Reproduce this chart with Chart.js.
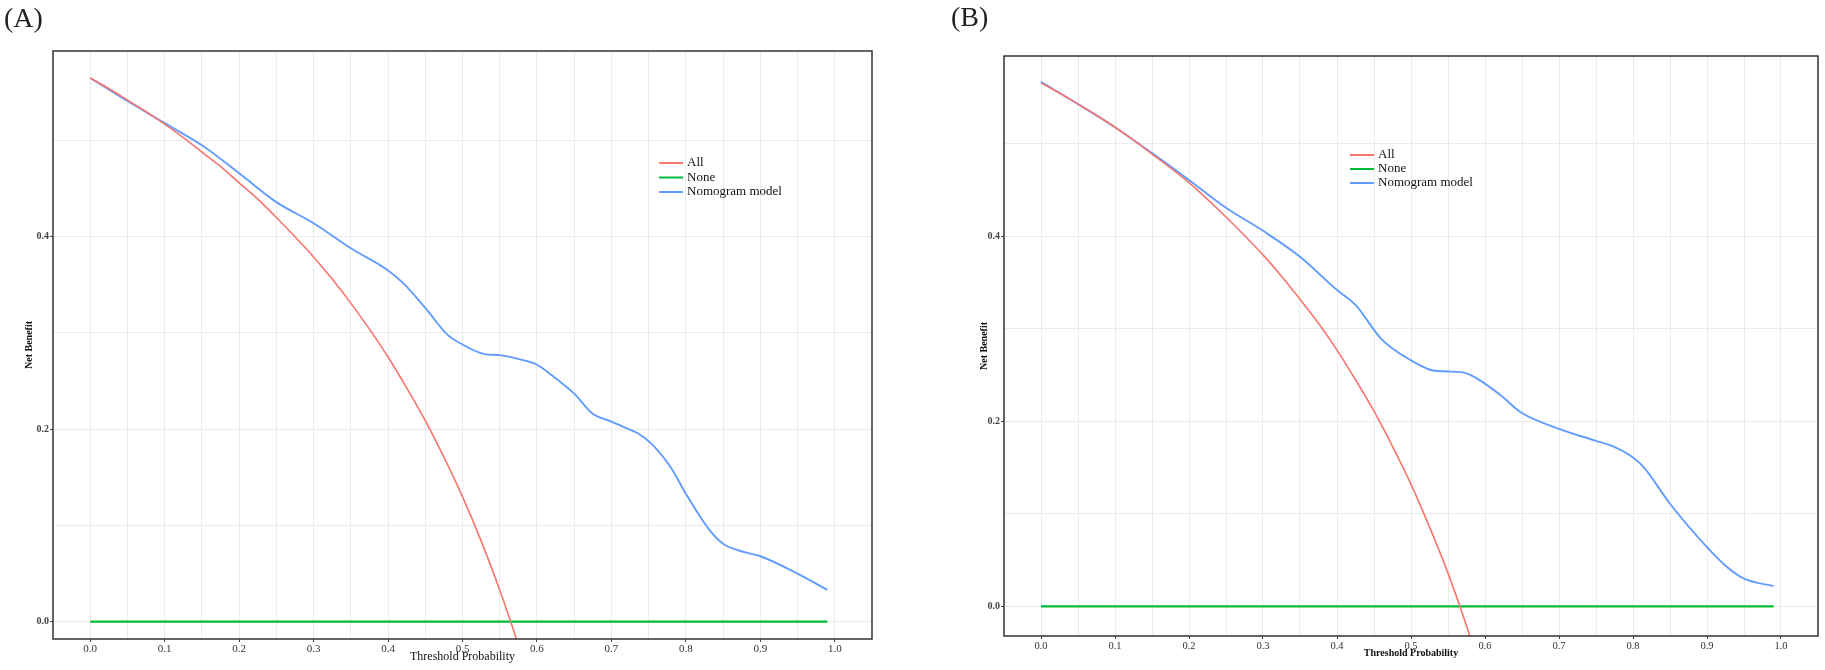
<!DOCTYPE html>
<html>
<head>
<meta charset="utf-8">
<title>Decision curves</title>
<script src="https://cdn.jsdelivr.net/npm/chart.js@4.4.1/dist/chart.umd.min.js"></script>
<style>
  body { margin: 0; background: #fff; width: 1825px; height: 670px; overflow: hidden; position: relative; font-family: "Liberation Serif", serif; }
  canvas { position: absolute; top: 0; }
  .tag { position: absolute; font-size: 28px; line-height: 28px; color: #222; }
</style>
</head>
<body>
<canvas id="chartA" width="912" height="670" style="left:0"></canvas>
<canvas id="chartB" width="913" height="670" style="left:912px"></canvas>
<div class="tag" style="left:4px;top:4px">(A)</div>
<div class="tag" style="left:951px;top:3px">(B)</div>
<script>
// axis breaks
const xMajor = [0, 0.1, 0.2, 0.3, 0.4, 0.5, 0.6, 0.7, 0.8, 0.9, 1.0];
const xMajorLabels = ['0.0', '0.1', '0.2', '0.3', '0.4', '0.5', '0.6', '0.7', '0.8', '0.9', '1.0'];
const xMinor = [0.05, 0.15, 0.25, 0.35, 0.45, 0.55, 0.65, 0.75, 0.85, 0.95];
const yMajor = [0, 0.2, 0.4];
const yMajorLabels = ['0.0', '0.2', '0.4'];
const yMinor = [0.1, 0.3, 0.5];

const seriesNames = ['All', 'None', 'Nomogram model'];

// "treat all" curves
const allThreshold = [0, 0.025, 0.05, 0.075, 0.1, 0.125, 0.15, 0.175, 0.2, 0.225, 0.25, 0.275, 0.3,
  0.325, 0.35, 0.375, 0.4, 0.425, 0.45, 0.475, 0.5, 0.525, 0.55, 0.575, 0.6];
const allA = [0.565, 0.554, 0.542, 0.530, 0.517, 0.503, 0.488, 0.473, 0.456, 0.439, 0.420, 0.400, 0.379,
  0.356, 0.331, 0.304, 0.275, 0.243, 0.209, 0.171, 0.130, 0.084, 0.033, -0.024, -0.088];
const allB = [0.566, 0.555, 0.543, 0.531, 0.518, 0.504, 0.489, 0.474, 0.458, 0.440, 0.421, 0.401, 0.380,
  0.357, 0.332, 0.306, 0.277, 0.245, 0.211, 0.173, 0.132, 0.086, 0.036, -0.021, -0.085];

// "treat none"
const noneThreshold = [0, 0.99];
const noneValues = [0, 0];

// nomogram, panel A
const nomoThresholdA = [0, 0.05, 0.1, 0.15, 0.2, 0.25, 0.3, 0.35, 0.4, 0.42, 0.45, 0.48, 0.5, 0.53, 0.55,
  0.58, 0.6, 0.62, 0.65, 0.675, 0.7, 0.72, 0.735, 0.755, 0.78, 0.8, 0.83, 0.85, 0.88, 0.9, 0.95, 0.99];
const nomoA = [0.565, 0.541, 0.518, 0.495, 0.466, 0.436, 0.414, 0.388, 0.365, 0.352, 0.326, 0.298, 0.288, 0.278, 0.277,
  0.272, 0.267, 0.256, 0.237, 0.216, 0.208, 0.201, 0.196, 0.184, 0.160, 0.133, 0.097, 0.081, 0.072, 0.068, 0.050, 0.033];

// nomogram, panel B
const nomoThresholdB = [0, 0.05, 0.1, 0.15, 0.2, 0.25, 0.3, 0.35, 0.4, 0.425, 0.46, 0.5, 0.53, 0.55, 0.575,
  0.59, 0.62, 0.65, 0.7, 0.75, 0.77, 0.8, 0.815, 0.85, 0.9, 0.925, 0.95, 0.99];
const nomoB = [0.567, 0.543, 0.518, 0.490, 0.461, 0.431, 0.406, 0.378, 0.342, 0.326, 0.289, 0.266, 0.255, 0.254, 0.252,
  0.246, 0.229, 0.209, 0.192, 0.179, 0.174, 0.161, 0.150, 0.111, 0.064, 0.044, 0.030, 0.022];

const colors = ['#F8766D', '#00BA38', '#619CFF'];

const toPoints = (xs, ys) => xs.map((x, i) => ({ x: x, y: ys[i] }));
const findIdx = (list, v) => list.findIndex(m => Math.abs(m - v) < 1e-9);

// full frame round the plot
const panelBox = {
  id: 'panelBox',
  afterDraw(chart) {
    const { ctx, chartArea: a } = chart;
    ctx.save();
    ctx.strokeStyle = '#333';
    ctx.lineWidth = 1.5;
    ctx.strokeRect(a.left, a.top, a.right - a.left, a.bottom - a.top);
    ctx.restore();
  }
};

// legend drawn inside the plot
const insideLegend = {
  id: 'insideLegend',
  afterDatasetsDraw(chart, args, opts) {
    const { ctx, chartArea } = chart;
    ctx.save();
    ctx.font = '13px "Liberation Serif"';
    ctx.textBaseline = 'middle';
    chart.data.datasets.forEach((ds, i) => {
      const x = chartArea.left + opts.x;
      const y = chartArea.top + opts.y + i * opts.gap;
      ctx.strokeStyle = ds.borderColor;
      ctx.lineWidth = 2;
      ctx.beginPath();
      ctx.moveTo(x, y);
      ctx.lineTo(x + 24, y);
      ctx.stroke();
      ctx.fillStyle = '#111';
      ctx.fillText(ds.label, x + 28, y);
    });
    ctx.restore();
  }
};

function makePanel(id, p) {
  const datasets = [
    { label: seriesNames[0], data: toPoints(allThreshold, p.all), borderColor: colors[0], borderWidth: 1.6 },
    { label: seriesNames[1], data: toPoints(noneThreshold, noneValues), borderColor: colors[1], borderWidth: 2.2 },
    { label: seriesNames[2], data: toPoints(p.nomoX, p.nomo), borderColor: colors[2], borderWidth: 1.9 }
  ];
  datasets.forEach(d => {
    d.pointRadius = 0;
    d.fill = false;
    d.cubicInterpolationMode = 'monotone';
  });

  return new Chart(document.getElementById(id), {
    type: 'line',
    data: { datasets: datasets },
    plugins: [panelBox, insideLegend],
    options: {
      responsive: false,
      animation: false,
      layout: { padding: p.padding },
      plugins: {
        legend: { display: false },
        tooltip: { enabled: false },
        insideLegend: p.legend
      },
      scales: {
        x: {
          type: 'linear',
          min: -0.05,
          max: 1.05,
          afterBuildTicks: s => { s.ticks = xMajor.concat(xMinor).sort((a, b) => a - b).map(v => ({ value: v })); },
          afterFit: s => { s.height = p.xHeight; },
          border: { display: false },
          grid: {
            color: '#ebebeb',
            lineWidth: 1,
            tickLength: 3,
            tickColor: c => (c.tick && findIdx(xMajor, c.tick.value) >= 0 ? '#444' : 'rgba(0,0,0,0)')
          },
          ticks: {
            autoSkip: false,
            maxRotation: 0,
            padding: 1,
            color: '#333',
            font: { family: 'Liberation Serif', size: p.tickSize },
            callback: v => { const i = findIdx(xMajor, v); return i >= 0 ? xMajorLabels[i] : ''; }
          },
          title: {
            display: true,
            text: 'Threshold Probability',
            color: '#111',
            padding: 0,
            font: { family: 'Liberation Serif', size: p.xTitleSize, weight: p.xTitleWeight }
          }
        },
        y: {
          type: 'linear',
          min: p.yMin,
          max: p.yMax,
          afterBuildTicks: s => { s.ticks = yMajor.concat(yMinor).sort((a, b) => a - b).map(v => ({ value: v })); },
          afterFit: s => { s.width = p.yWidth; },
          border: { display: false },
          grid: {
            color: '#ebebeb',
            lineWidth: 1,
            tickLength: 3,
            tickColor: c => (c.tick && findIdx(yMajor, c.tick.value) >= 0 ? '#444' : 'rgba(0,0,0,0)')
          },
          ticks: {
            autoSkip: false,
            padding: 1,
            color: '#444',
            font: { family: 'Liberation Serif', size: 10, weight: 'bold' },
            callback: v => { const i = findIdx(yMajor, v); return i >= 0 ? yMajorLabels[i] : ''; }
          },
          title: {
            display: true,
            text: 'Net Benefit',
            color: '#111',
            padding: 0,
            font: { family: 'Liberation Serif', size: 10, weight: 'bold' }
          }
        }
      }
    }
  });
}

makePanel('chartA', {
  all: allA, nomoX: nomoThresholdA, nomo: nomoA,
  yMin: -0.018, yMax: 0.593,
  padding: { left: 23, top: 51, right: 40, bottom: 6 },
  yWidth: 30, xHeight: 25,
  tickSize: 11, xTitleSize: 12, xTitleWeight: 'normal',
  legend: { x: 606, y: 112, gap: 14.5 }
});

makePanel('chartB', {
  all: allB, nomoX: nomoThresholdB, nomo: nomoB,
  yMin: -0.032, yMax: 0.595,
  padding: { left: 66, top: 56, right: 7, bottom: 11 },
  yWidth: 26, xHeight: 23,
  tickSize: 10.5, xTitleSize: 10, xTitleWeight: 'bold',
  legend: { x: 346, y: 99, gap: 14 }
});
</script>
</body>
</html>
